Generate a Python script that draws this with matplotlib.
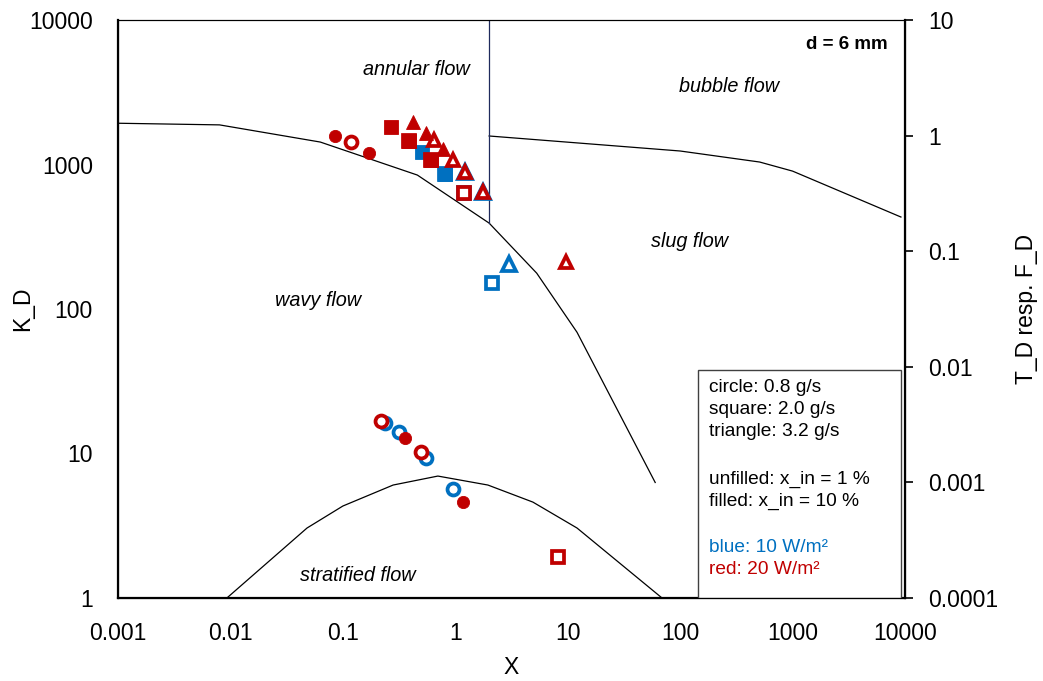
import matplotlib
matplotlib.use("Agg")
import matplotlib.pyplot as plt
from matplotlib.patches import Rectangle

plt.rcParams['font.family'] = ['Liberation Sans', 'DejaVu Sans']

# ---- flow-regime boundaries (Taitel-Dukler map, d = 6 mm) ----
wavy_annular_x = [0.001, 0.008, 0.063, 0.46, 2.0, 5.3, 12.1, 60]
wavy_annular_y = [1930, 1880, 1430, 845, 393, 177, 69, 6.3]

annular_vertical_x = [2.0, 2.0]
annular_vertical_y = [393, 10000]

bubble_slug_x = [2.0, 100, 510, 1000, 9200]
bubble_slug_y = [1575, 1240, 1040, 900, 433]

stratified_x = [0.0093, 0.048, 0.1, 0.28, 0.70, 1.95, 4.9, 12.1, 69]
stratified_y = [1.0, 3.05, 4.33, 6.05, 6.98, 6.05, 4.61, 3.05, 1.0]

# ---- measurements ----
# 10 W/m2, x_in = 1 %
blue_open_circle_x = [0.237, 0.316, 0.548, 0.948]
blue_open_circle_y = [16.2, 14.0, 9.27, 5.65]
blue_open_square_x = [0.81, 1.196, 2.13]
blue_open_square_y = [859, 635, 152]
blue_open_triangle_x = [1.22, 1.76, 3.02]
blue_open_triangle_y = [888, 646, 205]
# 10 W/m2, x_in = 10 %
blue_filled_square_x = [0.502, 0.81]
blue_filled_square_y = [1227, 859]

# 20 W/m2, x_in = 1 %
red_open_circle_x = [0.1175, 0.217, 0.495]
red_open_circle_y = [1438, 16.9, 10.2]
red_open_square_x = [0.387, 0.608, 1.196, 8.15]
red_open_square_y = [1455, 1075, 635, 1.93]
red_open_triangle_x = [0.647, 0.948, 1.22, 1.76, 9.75]
red_open_triangle_y = [1478, 1075, 888, 646, 210]
# 20 W/m2, x_in = 10 %
red_filled_circle_x = [0.0851, 0.171, 0.357, 1.164]
red_filled_circle_y = [1575, 1202, 12.9, 4.59]
red_filled_square_x = [0.268, 0.387, 0.608]
red_filled_square_y = [1818, 1455, 1075]
red_filled_triangle_x = [0.418, 0.546, 0.773]
red_filled_triangle_y = [1978, 1651, 1280]

x_ticks = [0.001, 0.01, 0.1, 1, 10, 100, 1000, 10000]
x_tick_labels = ['0.001', '0.01', '0.1', '1', '10', '100', '1000', '10000']
y_ticks = [1, 10, 100, 1000, 10000]
y_tick_labels = ['1', '10', '100', '1000', '10000']
y2_ticks = [0.0001, 0.001, 0.01, 0.1, 1, 10]
y2_tick_labels = ['0.0001', '0.001', '0.01', '0.1', '1', '10']

legend_lines = [
    ("circle: 0.8 g/s", 'black'),
    ("square: 2.0 g/s", 'black'),
    ("triangle: 3.2 g/s", 'black'),
    ("", 'black'),
    ("unfilled: x_in = 1 %", 'black'),
    ("filled: x_in = 10 %", 'black'),
    ("", 'black'),
    ("blue: 10 W/m²", '#0070C0'),
    ("red: 20 W/m²", '#C00000'),
]

BLUE = '#0070C0'
RED = '#C00000'

W, H = 1043, 681
fig = plt.figure(figsize=(W / 100, H / 100), dpi=100)
ax = fig.add_axes([118 / W, 1 - 598 / H, (905 - 118) / W, (598 - 20) / H])
ax.set_xscale('log')
ax.set_yscale('log')
ax.set_xlim(0.001, 10000)
ax.set_ylim(1, 10000)

# boundaries
ax.plot(wavy_annular_x, wavy_annular_y, color='black', lw=0.9, zorder=2)
ax.plot(bubble_slug_x, bubble_slug_y, color='black', lw=0.9, zorder=2)
ax.plot(stratified_x, stratified_y, color='black', lw=0.9, zorder=2)
ax.plot(annular_vertical_x, annular_vertical_y, color='#1F2A5C', lw=0.9, zorder=2)


def open_marks(x, y, marker, color, ms, z):
    ax.plot(x, y, ls='none', marker=marker, ms=ms, mfc='white', mec=color,
            mew=2.7, zorder=z)


def filled_marks(x, y, marker, color, ms, z):
    ax.plot(x, y, ls='none', marker=marker, ms=ms, mfc=color, mec=color,
            mew=0.6, zorder=z)


open_marks(blue_open_circle_x, blue_open_circle_y, 'o', BLUE, 8.6, 3)
open_marks(blue_open_square_x, blue_open_square_y, 's', BLUE, 8.4, 3)
open_marks(blue_open_triangle_x, blue_open_triangle_y, '^', BLUE, 9.8, 3)
filled_marks(blue_filled_square_x, blue_filled_square_y, 's', BLUE, 10.0, 4)

open_marks(red_open_circle_x, red_open_circle_y, 'o', RED, 8.6, 5)
open_marks(red_open_square_x, red_open_square_y, 's', RED, 8.4, 5)
open_marks(red_open_triangle_x, red_open_triangle_y, '^', RED, 8.8, 5)
filled_marks(red_filled_circle_x, red_filled_circle_y, 'o', RED, 8.8, 6)
filled_marks(red_filled_square_x, red_filled_square_y, 's', RED, 9.4, 6)
filled_marks(red_filled_triangle_x, red_filled_triangle_y, '^', RED, 9.6, 6)

# axes styling
ax.set_xticks(x_ticks)
ax.set_xticklabels(x_tick_labels)
ax.set_yticks(y_ticks)
ax.set_yticklabels(y_tick_labels)
ax.minorticks_off()
ax.tick_params(axis='x', which='both', length=0, labelsize=16.5, pad=17)
ax.tick_params(axis='y', which='both', length=0, labelsize=16.5, pad=18)
ax.set_xlabel('X', fontsize=16.5, va='center')
ax.xaxis.set_label_coords(0.5, (598 - 667) / 578)
ax.set_ylabel('K_D', fontsize=16.5, va='center')
ax.yaxis.set_label_coords((23 - 118) / 787, 0.5)
for side in ('left', 'bottom'):
    ax.spines[side].set_linewidth(1.6)
for side in ('top', 'right'):
    ax.spines[side].set_linewidth(0.8)

ax2 = ax.twinx()
ax2.set_yscale('log')
ax2.set_ylim(0.0001, 10)
ax2.set_yticks(y2_ticks)
ax2.set_yticklabels(y2_tick_labels)
ax2.minorticks_off()
ax2.tick_params(axis='y', which='major', direction='out', length=6, width=1.2,
                labelsize=16.5, pad=11)
ax2.spines['right'].set_linewidth(1.6)
ax2.set_ylabel('T_D resp. F_D', fontsize=16.5, va='center')
ax2.yaxis.set_label_coords((1027 - 118) / 787, 0.5)

# regime labels
ax.text(0.448, 4510, 'annular flow', style='italic', fontsize=14.3, ha='center', va='center')
ax.text(272, 3490, 'bubble flow', style='italic', fontsize=14.3, ha='center', va='center')
ax.text(122, 291, 'slug flow', style='italic', fontsize=14.3, ha='center', va='center')
ax.text(0.060, 115, 'wavy flow', style='italic', fontsize=14.3, ha='center', va='center')
ax.text(0.136, 1.44, 'stratified flow', style='italic', fontsize=14.3, ha='center', va='center')
ax.text(0.978, 0.958, 'd = 6 mm', transform=ax.transAxes, fontweight='bold',
        fontsize=13.5, ha='right', va='center')

# notes box in the lower right
box_left, box_top, box_right = 698, 370, 901
ax.add_patch(Rectangle(((box_left - 118) / 787, 0), (box_right - box_left) / 787,
                       (598 - box_top) / 578, transform=ax.transAxes,
                       facecolor='white', edgecolor='#404040', lw=1.0, zorder=7))
line_y = [388, 410, 432, 455, 479, 501, 524, 547, 569]
for (txt, col), py in zip(legend_lines, line_y):
    if txt:
        fig.text(709 / W, 1 - py / H, txt, color=col, fontsize=13.8,
                 ha='left', va='center', zorder=8)

fig.savefig('out.png', dpi=100)
